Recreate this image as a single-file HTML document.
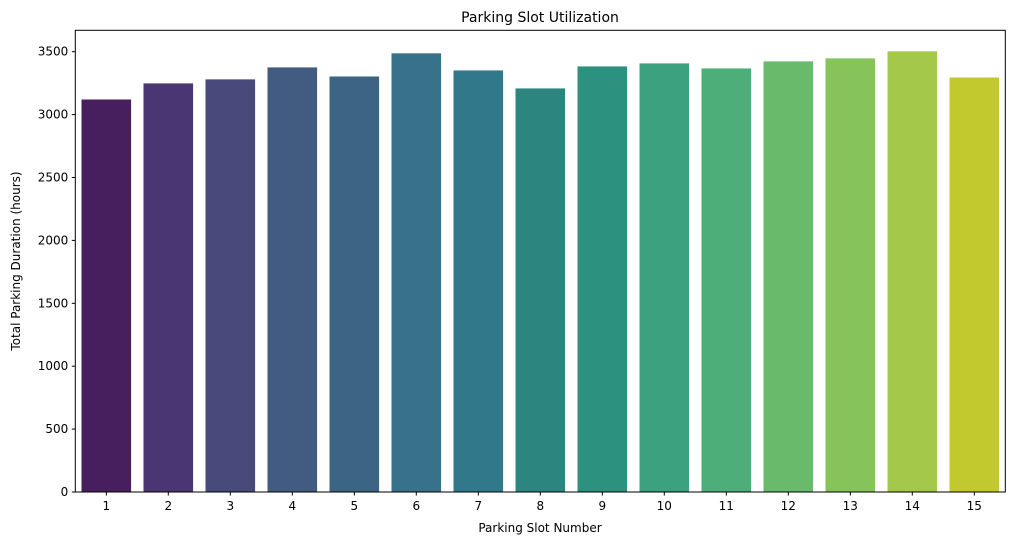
<!DOCTYPE html>
<html><head><meta charset="utf-8"><style>
body{margin:0;background:#fff;font-family:"Liberation Sans","DejaVu Sans",sans-serif;}
text{font-family:"DejaVu Sans","Liberation Sans",sans-serif;}
</style></head><body>
<svg id="chart" width="1014" height="545" xmlns="http://www.w3.org/2000/svg">
<rect width="1014" height="545" fill="#fff"/>
<text x="540" y="22" font-size="14" text-anchor="middle" fill="#000">Parking Slot Utilization</text>
<g id="bars"></g>
<g id="axes"></g>
<text x="540" y="532" font-size="12" text-anchor="middle">Parking Slot Number</text>
<text transform="translate(20,261) rotate(-90)" font-size="12" text-anchor="middle">Total Parking Duration (hours)</text>
</svg>
<script>
const categories=["1","2","3","4","5","6","7","8","9","10","11","12","13","14","15"];
const values=[3120,3248,3280,3375,3303,3487,3351,3208,3383,3407,3367,3423,3447,3503,3295];
const yTicks=[0,500,1000,1500,2000,2500,3000,3500];
const colors=["#481f5e","#4a3672","#484a7b","#425b81","#3c6584","#38718a","#31788a","#2d8580","#2c917f","#3ba17e","#4eae79","#69bb6b","#86c35b","#a3c84a","#c2c92e"];
const L=75.3,R=1005.3,T=30.3,B=492,yMax=3670;
const step=(R-L)/categories.length;
const x=i=>L+step*(i+0.5);
const y=v=>B-(v/yMax)*(B-T);
const ns="http://www.w3.org/2000/svg";
const bars=document.getElementById('bars'),axes=document.getElementById('axes');
function mk(tag,attrs,parent){const e=document.createElementNS(ns,tag);for(const k in attrs)e.setAttribute(k,attrs[k]);parent.appendChild(e);return e;}
values.forEach((v,i)=>{
 const r=mk('rect',{x:x(i)-step*0.4,y:y(v),width:step*0.8,height:B-y(v),fill:colors[i]},bars);
 
 
});
const f=mk('rect',{x:L,y:T,width:R-L,height:B-T,fill:'none',stroke:'#000','stroke-width':1},axes);


yTicks.forEach(t=>{
 const ln=mk('line',{x1:L-3.5,x2:L,y1:y(t),y2:y(t),stroke:'#000'},axes);
 
 
 const tx=mk('text',{x:L-7,y:y(t)+4,'font-size':12,'text-anchor':'end'},axes);
 tx.textContent=t;
 
 
});
categories.forEach((c,i)=>{
 const ln=mk('line',{x1:x(i),x2:x(i),y1:B,y2:B+3.5,stroke:'#000'},axes);
 
 
 const tx=mk('text',{x:x(i),y:B+18,'font-size':12,'text-anchor':'middle'},axes);
 tx.textContent=c;
 
 
});
</script>
</body></html>
